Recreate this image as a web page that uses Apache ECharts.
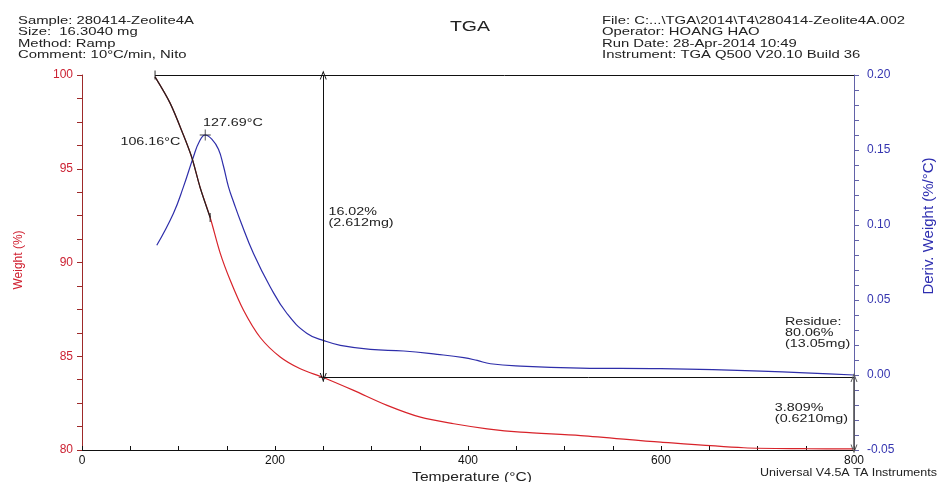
<!DOCTYPE html>
<html><head><meta charset="utf-8">
<script src="https://cdn.jsdelivr.net/npm/echarts@6/dist/echarts.min.js"></script>
<style>html,body{margin:0;padding:0;background:#fff}#c{width:940px;height:482px}</style>
</head><body><div id="c"></div>
<script>
// ---- data ----
const weightTemp = [75.7, 91.3, 105.1, 113.8, 122.4, 132.8, 143.2, 153.6, 167.4, 184.7, 205.4, 226.2, 250, 281.5, 316.2, 350.7, 385.3, 419.9, 454.5, 516.7, 599.7, 685.9, 750, 800];
const weight     = [99.9, 98.5, 96.8, 95.6, 94.0, 92.4, 90.5, 89.05, 87.45, 86.0, 84.96, 84.33, 83.87, 83.18, 82.38, 81.75, 81.40, 81.13, 80.95, 80.77, 80.42, 80.12, 80.07, 80.06];
const derivTemp  = [77.5, 94.7, 105.1, 115.5, 121.5, 127.69, 134.5, 141.4, 146.5, 151.8, 157.8, 163.9, 177.7, 195.1, 212.4, 233.2, 252.1, 267.7, 298.8, 333.4, 368.0, 395.6, 409.5, 423.3, 454.5, 516.7, 599.7, 703.5, 800];
const deriv      = [0.0865, 0.1077, 0.1254, 0.1455, 0.1555, 0.160, 0.1572, 0.1505, 0.1395, 0.1254, 0.114, 0.1032, 0.081, 0.0587, 0.041, 0.0277, 0.0226, 0.0198, 0.0171, 0.016, 0.0138, 0.0116, 0.0097, 0.0075, 0.0059, 0.0046, 0.0042, 0.0026, 0.0];
const peakIndex = 5;
const overlayCount = 6; // onset segment drawn in black (75.7 .. 132.8 °C)
const xTicks = [0, 800, 200];
const leftTicks = [80, 100, 5];
const rightTicks = [-0.05, 0.20, 0.05];
// step analysis values
const stepTop = 100, stepBottom = 83.87, residue = 80.06, stepStartT = 75.7, stepT = 250, endT = 800;
const headerLeft = ['Sample: 280414-Zeolite4A', 'Size:  16.3040 mg', 'Method: Ramp', 'Comment: 10°C/min, Nito'];
const headerRight = ['File: C:...\\TGA\\2014\\T4\\280414-Zeolite4A.002', 'Operator: HOANG HAO', 'Run Date: 28-Apr-2014 10:49', 'Instrument: TGA Q500 V20.10 Build 36'];
const notes = [
  {t: [125.4, 97.44], text: '127.69°C', align: 'left'},
  {t: [101.8, 96.44], text: '106.16°C', align: 'right'},
  {t: [255.4, 92.39], text: '16.02%\n(2.612mg)', align: 'left'},
  {t: [728.5, 86.22], text: 'Residue:\n80.06%\n(13.05mg)', align: 'left'},
  {t: [718, 81.93], text: '3.809%\n(0.6210mg)', align: 'left'}
];

const F = 'Arial, "Liberation Sans", sans-serif';
const RED = '#d8232a', BLUE = '#2e2eaa', DARKRED = '#9e2a2a', RAXIS = '#6262a8';
const chev = 'path://M0,10 L5,0 L10,10 L8.6,10 L5,2.8 L1.4,10 Z';
const plus = 'path://M0,4.6H10V5.4H0Z M4.6,0H5.4V10H4.6Z';

const zip = (a, b) => a.map((v, i) => [v, b[i]]);
const wData = zip(weightTemp, weight);
const dData = zip(derivTemp, deriv);

const chart = echarts.init(document.getElementById('c'), null, {renderer: 'canvas'});
const option = {
  animation: false,
  grid: {left: 82, right: 86, top: 75, bottom: 32},
  xAxis: {
    type: 'value', min: xTicks[0], max: xTicks[1], interval: xTicks[2],
    axisLine: {onZero: false, lineStyle: {color: '#111', width: 1}},
    axisTick: {inside: true, length: 4, lineStyle: {color: '#111'}},
    minorTick: {show: true, splitNumber: 4, length: 4, lineStyle: {color: '#111'}},
    splitLine: {show: false},
    axisLabel: {color: '#111', fontSize: 12, margin: 5, fontFamily: F, showMinLabel: true, showMaxLabel: true}
  },
  yAxis: [{
    type: 'value', min: leftTicks[0], max: leftTicks[1], interval: leftTicks[2], position: 'left',
    axisLine: {show: true, onZero: false, lineStyle: {color: DARKRED}},
    axisTick: {show: true, length: 5, lineStyle: {color: DARKRED}},
    minorTick: {show: true, splitNumber: 4, length: 5, lineStyle: {color: DARKRED}},
    splitLine: {show: false},
    axisLabel: {color: '#cc2233', fontSize: 12, margin: 9, fontFamily: F, showMinLabel: true, showMaxLabel: true}
  }, {
    type: 'value', min: rightTicks[0], max: rightTicks[1], interval: rightTicks[2], position: 'right',
    axisLine: {show: true, onZero: false, lineStyle: {color: RAXIS}},
    axisTick: {show: true, length: 5, lineStyle: {color: RAXIS}},
    minorTick: {show: true, splitNumber: 5, length: 5, lineStyle: {color: RAXIS}},
    splitLine: {show: false},
    axisLabel: {color: '#3535b0', fontSize: 12, margin: 13, fontFamily: F, showMinLabel: true, showMaxLabel: true,
      formatter: v => v.toFixed(2)}
  }],
  series: [{
    type: 'line', name: 'Weight', yAxisIndex: 0, data: wData, smooth: 0.3,
    showSymbol: false, symbol: 'none', lineStyle: {color: RED, width: 1.2}, z: 3,
    markLine: {
      silent: true, symbol: 'none', animation: false,
      label: {show: false}, lineStyle: {color: '#111', type: 'solid', width: 1},
      data: [
        [{coord: [stepStartT, stepTop]}, {coord: [endT, stepTop]}],
        [{coord: [stepT, stepBottom]}, {coord: [endT, stepBottom]}],
        [{coord: [stepT, stepTop], symbol: chev, symbolSize: [7, 9]}, {coord: [stepT, stepBottom], symbol: chev, symbolSize: [7, 9]}],
        [{coord: [endT, stepBottom], symbol: chev, symbolSize: [7, 9], lineStyle: {color: '#555', width: 1.6}}, {coord: [endT, residue], symbol: chev, symbolSize: [7, 9]}]
      ]
    }
  }, {
    type: 'line', name: 'Onset', yAxisIndex: 0, data: wData.slice(0, overlayCount), smooth: 0.3,
    showSymbol: false, symbol: 'none', lineStyle: {color: '#222', width: 1.2}, z: 4
  }, {
    type: 'line', name: 'Deriv', yAxisIndex: 1, data: dData, smooth: 0.45,
    showSymbol: false, symbol: 'none', lineStyle: {color: BLUE, width: 1.2}, z: 3
  }, {
    type: 'scatter', yAxisIndex: 1, silent: true, z: 5,
    data: [dData[peakIndex]], symbol: plus, symbolSize: 11, itemStyle: {color: '#111'}
  }, {
    type: 'scatter', yAxisIndex: 0, silent: true, z: 5,
    data: [[stepT, stepBottom]], symbol: plus, symbolSize: 9, itemStyle: {color: '#111'}
  }, {
    type: 'scatter', yAxisIndex: 0, silent: true, z: 5,
    data: [[stepStartT, stepTop], wData[overlayCount - 1]], symbol: 'rect', symbolSize: [1.2, 9], itemStyle: {color: '#222'}
  }]
};
chart.setOption(option);

// ---- text elements ----
const g = [];
const hdr = (lines, x) => ({type: 'text', x: x, y: 15, scaleX: 1.35, z: 10,
  style: {text: lines.join('\n'), font: '11px ' + F, fill: '#222', lineHeight: 11.5, verticalAlign: 'top'}});
g.push(hdr(headerLeft, 18));
g.push(hdr(headerRight, 602));
g.push({type: 'text', x: 470, y: 27, scaleX: 1.3, style: {text: 'TGA', font: '15px ' + F, fill: '#222', align: 'center', verticalAlign: 'middle'}});
g.push({type: 'text', x: 472, y: 477, scaleX: 1.2, style: {text: 'Temperature (°C)', font: '13px ' + F, fill: '#222', align: 'center', verticalAlign: 'middle'}});
g.push({type: 'text', x: 19, y: 260, rotation: Math.PI / 2, style: {text: 'Weight (%)', font: '12px ' + F, fill: '#d02030', align: 'center', verticalAlign: 'middle'}});
g.push({type: 'text', x: 929, y: 226, rotation: Math.PI / 2, style: {text: 'Deriv. Weight (%/°C)', font: '15px ' + F, fill: '#2e2eb0', align: 'center', verticalAlign: 'middle'}});
g.push({type: 'text', x: 937, y: 473, scaleX: 1.25, style: {text: 'Universal V4.5A TA Instruments', font: '10px ' + F, fill: '#222', align: 'right', verticalAlign: 'middle'}});
notes.forEach(n => {
  const p = chart.convertToPixel({xAxisIndex: 0, yAxisIndex: 0}, n.t);
  g.push({type: 'text', x: p[0], y: p[1], scaleX: 1.3, z: 10,
    style: {text: n.text, font: '11px ' + F, fill: '#222', lineHeight: 11, align: n.align, verticalAlign: 'middle'}});
});
chart.setOption({graphic: g});
</script>
</body></html>
